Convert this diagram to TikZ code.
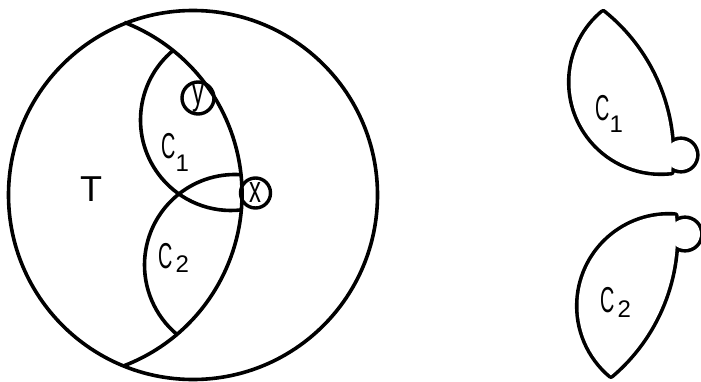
\documentclass[tikz,border=0pt]{standalone}
\usepackage{fontspec}
\setmainfont{Liberation Sans}
\tikzset{
  outline/.style={line width=3.6pt},
  piece/.style={line width=7.2pt,line join=round},
  ringmark/.style={circle,draw,line width=3.4pt,inner sep=0pt,minimum size=30pt,font=\fontsize{28}{28}\selectfont},
  lbl/.style={inner sep=0pt,font=\fontsize{36}{36}\selectfont}
}
\newcommand\lensone{(231,261) ++(129.8:90.5) arc[start angle=129.8,end angle=276.5,radius=90.5] arc[start angle=-4.96,end angle=51.27,radius=184] -- cycle}
\newcommand\lenstwo{(235,116) ++(86.2:90.5) arc[start angle=86.2,end angle=230.07,radius=90.5] arc[start angle=-49.74,end angle=6.02,radius=184] -- cycle}
\newcommand\knob{(251,188) circle[radius=15]}
\newcommand\cname[3][0pt]{\scalebox{0.55}[1]{C}\kern#1\raisebox{#2}{\fontsize{24}{24}\selectfont#3}}
\newcommand\tall[1]{\scalebox{0.85}[1.35]{#1}}
\begin{document}
\begin{tikzpicture}[x=1pt,y=1pt]
  \useasboundingbox (0,0) rectangle (701,381);
  \draw[outline] (193,186) circle[radius=184.5];
  \draw[outline] (58,187) ++(-68.9:184) arc[start angle=-68.9,end angle=68.9,radius=184];
  \draw[outline] (231,261) ++(129.8:90.5) arc[start angle=129.8,end angle=276.5,radius=90.5];
  \draw[outline] (235,116) ++(86.2:90.5) arc[start angle=86.2,end angle=230.07,radius=90.5];
  \node[ringmark] (xmark) at (255.5,188) {\tall{x}};
  \node[ringmark,minimum size=32pt] (ymark) at (198,283) {\tall{y}};
  \node[lbl] (tlabel) at (91,192) {T};
  \node[lbl,anchor=base west] (cone) at (161,223) {\cname{-14pt}{1}};
  \node[lbl,anchor=base west] (ctwo) at (158,113) {\cname[3pt]{-4pt}{2}};
  \begin{scope}[shift={(430,38)}]
    \draw[piece] \lensone;
    \draw[piece] \knob;
    \fill[white] \lensone;
    \fill[white] \knob;
  \end{scope}
  \begin{scope}[shift={(434,-41)}]
    \draw[piece] \lenstwo;
    \draw[piece] \knob;
    \fill[white] \lenstwo;
    \fill[white] \knob;
  \end{scope}
  \node[lbl,anchor=base west] (coneright) at (595,261) {\cname{-12pt}{1}};
  \node[lbl,anchor=base west] (ctworight) at (600,69) {\cname[3pt]{-5pt}{2}};
\end{tikzpicture}
\end{document}
